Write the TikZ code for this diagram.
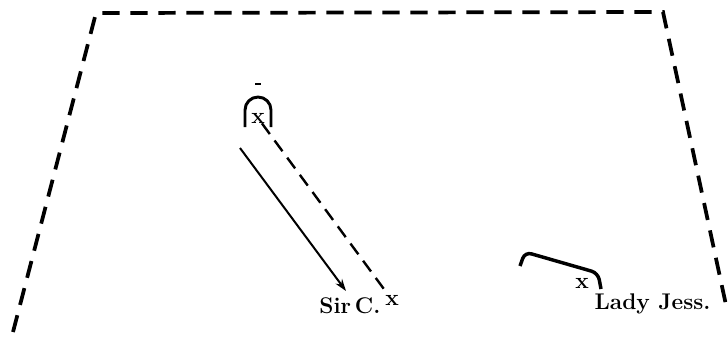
\documentclass[tikz,border=0pt]{standalone}
\usepackage{tikz}
\usetikzlibrary{arrows.meta,positioning}

\begin{document}
\begin{tikzpicture}[x=0.75pt, y=-0.75pt, every node/.style={font=\fontsize{17}{19}\selectfont\bfseries}]
  \tikzset{wall/.style={line width=2.8pt, dash pattern=on 13pt off 8pt}, walk/.style={line width=1.8pt, dash pattern=on 10pt off 6pt}, move/.style={-{Stealth[length=9pt, width=6pt]}, line width=1.5pt}, spot/.style={inner sep=0pt, font=\fontsize{17}{17}\selectfont\bfseries}, hook/.style={line width=2.6pt, rounded corners=5pt}}
  \useasboundingbox (0,0) rectangle (728,340);
  % room outline
  \coordinate (bl) at (13,332);
  \coordinate (tl) at (96,13);
  \coordinate (tr) at (663,12);
  \coordinate (br) at (726,305);
  \draw[wall] (bl) -- (tl) -- (tr) -- (br);
  % start of Sir C.
  \node[spot] (start) at (258,118) {x};
  \draw[line width=2.2pt] (245,127) -- (245,110) arc (180:360:13) -- (271,127);
  \draw[line width=1pt] (255,84) -- (261,84);
  \node[spot] (sirx) at (392,300) {x};
  \node[anchor=east, inner sep=1pt] (sir) at (382,306) {Sir\,C.};
  \coordinate (a1) at (240,148);
  \coordinate (a2) at (346,291);
  \draw[move] (a1) -- (a2);
  \draw[walk] (start) -- (sirx);
  % Lady Jess.
  \node[spot] (ladyx) at (582,283) {x};
  \node[anchor=west, inner sep=1pt] (lady) at (593,304) {Lady Jess.};
  \draw[hook] (520,266) -- (525,252) -- (598,273) -- (601,289);
\end{tikzpicture}
\end{document}
